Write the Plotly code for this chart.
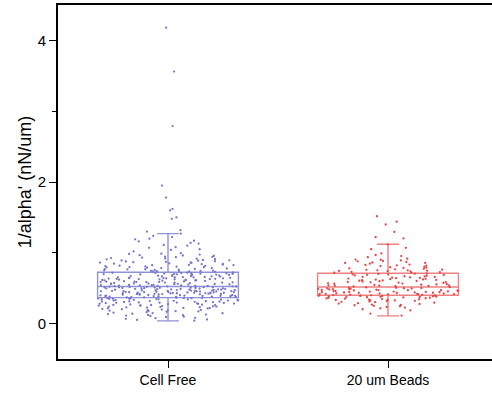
import plotly.graph_objects as go

categories = ["Cell Free", "20 um Beads"]
positions = [0, 1]

cell_free = [
    0.041, 0.093, 0.058, 0.127, 0.146, 0.081, 0.172, 0.113, 0.198, 0.155,
    0.067, 0.214, 0.183, 0.139, 0.241, 0.226, 0.107, 0.263, 0.191, 0.252,
    0.288, 0.161, 0.274, 0.305, 0.233, 0.219, 0.297, 0.318, 0.122, 0.281,
    0.336, 0.247, 0.309, 0.343, 0.176, 0.268, 0.325, 0.354, 0.203, 0.292,
    0.331, 0.361, 0.258, 0.312, 0.347, 0.236, 0.279, 0.302, 0.357, 0.188,
    0.264, 0.321, 0.339, 0.098, 0.229, 0.285, 0.351, 0.366, 0.207, 0.316,
    0.244, 0.328, 0.359, 0.134, 0.271, 0.299, 0.345, 0.167, 0.253, 0.334,
    0.363, 0.221, 0.294, 0.349, 0.076, 0.308,
    0.052, 0.118, 0.149, 0.193, 0.217, 0.239, 0.261, 0.283, 0.296, 0.314,
    0.327, 0.341, 0.353, 0.362, 0.178,
    0.371, 0.412, 0.448, 0.389, 0.503, 0.427, 0.468, 0.381, 0.494, 0.436,
    0.457, 0.402, 0.518, 0.375, 0.441, 0.483, 0.419, 0.396, 0.462, 0.509,
    0.386, 0.433, 0.476, 0.408, 0.452, 0.497, 0.378, 0.423, 0.488, 0.445,
    0.415, 0.471, 0.392, 0.512, 0.438, 0.459, 0.399, 0.481, 0.429, 0.506,
    0.369, 0.454, 0.417, 0.491, 0.384, 0.466, 0.443, 0.521, 0.405, 0.474,
    0.431, 0.498, 0.394, 0.449, 0.486, 0.421, 0.463, 0.379, 0.515, 0.439,
    0.409, 0.479, 0.456, 0.393, 0.501, 0.426, 0.469, 0.387, 0.446, 0.511,
    0.414, 0.484, 0.434, 0.398, 0.461, 0.507,
    0.373, 0.391, 0.404, 0.418, 0.429, 0.444, 0.458, 0.467, 0.478, 0.489,
    0.496, 0.504, 0.513, 0.519, 0.436,
    0.529, 0.586, 0.641, 0.553, 0.702, 0.612, 0.568, 0.674, 0.537, 0.629,
    0.691, 0.577, 0.548, 0.657, 0.718, 0.603, 0.534, 0.664, 0.592, 0.624,
    0.709, 0.561, 0.645, 0.683, 0.541, 0.617, 0.572, 0.698, 0.651, 0.589,
    0.526, 0.633, 0.714, 0.557, 0.669, 0.606, 0.544, 0.687, 0.621, 0.579,
    0.659, 0.531, 0.696, 0.598, 0.638, 0.564, 0.722, 0.613, 0.551, 0.677,
    0.583, 0.647, 0.705, 0.539, 0.626, 0.594, 0.668, 0.559, 0.711, 0.636,
    0.574, 0.693, 0.609, 0.546, 0.654, 0.681, 0.524, 0.619, 0.701, 0.566,
    0.643, 0.587, 0.672, 0.533, 0.631, 0.716,
    0.527, 0.543, 0.562, 0.578, 0.596, 0.611, 0.628, 0.639, 0.652, 0.667,
    0.679, 0.694, 0.707, 0.719, 0.585,
    0.731, 0.812, 0.889, 0.757, 0.943, 0.778, 0.851, 0.742, 0.967, 0.804,
    0.873, 0.765, 0.921, 0.829, 0.736, 0.898, 0.791, 0.956, 0.847, 0.772,
    0.914, 0.818, 0.749, 0.881, 0.984, 0.796, 0.862, 0.738, 0.932, 0.808,
    0.753, 0.867, 0.784, 0.995, 0.839, 0.761, 0.908, 0.824, 0.745, 0.877,
    0.947, 0.799, 0.856, 0.769, 0.926, 0.834, 0.975, 0.787, 0.741, 0.893,
    0.744, 0.768, 0.793, 0.816, 0.842, 0.866, 0.894, 0.917, 0.938, 0.962,
    0.988, 0.827,
    1.02, 1.04, 1.05, 1.07, 1.08, 1.10, 1.11, 1.13, 1.14, 1.16,
    1.17, 1.19, 1.20, 1.22, 1.24, 1.271,
    1.30, 1.32, 1.48, 1.50, 1.60, 1.62, 1.78, 1.95, 2.79, 3.56, 4.18,
]

beads_20um = [
    0.113, 0.186, 0.227, 0.251, 0.142, 0.268, 0.295, 0.214, 0.312, 0.331,
    0.278, 0.347, 0.236, 0.358, 0.302, 0.366, 0.259, 0.374, 0.321, 0.381,
    0.289, 0.387, 0.339, 0.393, 0.352, 0.397, 0.308, 0.372, 0.245, 0.384,
    0.362, 0.327, 0.391, 0.283, 0.378, 0.344, 0.399, 0.317, 0.369, 0.203,
    0.355, 0.389, 0.336, 0.264, 0.333, 0.376, 0.395,
    0.403, 0.447, 0.488, 0.421, 0.509, 0.436, 0.462, 0.412, 0.497, 0.455,
    0.428, 0.476, 0.515, 0.407, 0.441, 0.483, 0.432, 0.468, 0.502, 0.417,
    0.451, 0.493, 0.424, 0.471, 0.439, 0.511, 0.458, 0.409, 0.485, 0.444,
    0.466, 0.426, 0.499, 0.415, 0.478, 0.453, 0.505, 0.434, 0.461, 0.491,
    0.419, 0.473, 0.448, 0.414, 0.443, 0.472, 0.496,
    0.524, 0.583, 0.641, 0.552, 0.697, 0.609, 0.538, 0.667, 0.574, 0.627,
    0.686, 0.546, 0.598, 0.653, 0.531, 0.705, 0.617, 0.563, 0.676, 0.589,
    0.636, 0.541, 0.658, 0.603, 0.692, 0.557, 0.622, 0.579, 0.708, 0.647,
    0.528, 0.669, 0.594, 0.613, 0.681, 0.566, 0.632, 0.549, 0.701, 0.587,
    0.661, 0.535, 0.624, 0.537, 0.569, 0.605, 0.648, 0.689,
    0.718, 0.774, 0.846, 0.731, 0.892, 0.759, 0.812, 0.726, 0.938, 0.787,
    0.863, 0.741, 0.905, 0.796, 0.752, 0.871, 0.823, 0.766, 0.954, 0.738,
    0.834, 0.781, 0.917, 0.748, 0.857, 0.803, 0.969, 0.762, 0.879, 0.721,
    0.991, 0.829, 0.744, 0.902, 0.792, 0.857, 0.753, 0.819, 0.884,
    1.05, 1.07, 1.12, 1.205, 1.22, 1.295, 1.40, 1.44, 1.516,
]

# Box statistics
q1 = [0.367, 0.400]
median = [0.523, 0.518]
q3 = [0.725, 0.711]
lower_whisker = [0.038, 0.109]
upper_whisker = [1.271, 1.12]

y_ticks = [0, 2, 4]

box_colors = ["rgb(145,145,218)", "rgb(238,128,128)"]
point_colors = ["rgb(118,118,200)", "rgb(226,70,70)"]

series = [cell_free, beads_20um]
BOX_W = 0.64

fig = go.Figure()
for i, cat in enumerate(categories):
    fig.add_trace(go.Box(
        x=[positions[i]], q1=[q1[i]], median=[median[i]], q3=[q3[i]],
        lowerfence=[lower_whisker[i]], upperfence=[upper_whisker[i]],
        width=BOX_W, whiskerwidth=0.156, name=cat,
        line=dict(color=box_colors[i], width=1.4),
        fillcolor="rgba(0,0,0,0)", boxpoints=False, showlegend=False,
    ))
    fig.add_trace(go.Box(
        x=[positions[i]] * len(series[i]), y=series[i],
        width=BOX_W, boxpoints="all", jitter=1, pointpos=0, name=cat,
        line=dict(color="rgba(0,0,0,0)", width=0),
        fillcolor="rgba(0,0,0,0)",
        marker=dict(color=point_colors[i], size=2.3, line=dict(width=0)),
        showlegend=False,
    ))

font_family = "Arial, Liberation Sans, sans-serif"
fig.update_layout(
    width=492, height=394,
    margin=dict(l=58, r=0, t=5, b=35),
    paper_bgcolor="white", plot_bgcolor="white",
    boxmode="overlay",
    font=dict(family=font_family, color="black", size=15),
    xaxis=dict(
        range=[-0.5, 1.4727], tickvals=positions, ticktext=categories,
        showline=True, linecolor="black", linewidth=2, mirror=True,
        ticks="outside", ticklen=7, tickwidth=1.3, tickcolor="black",
        showgrid=False, zeroline=False,
        tickfont=dict(size=14),
    ),
    yaxis=dict(
        range=[-0.5, 4.5], tickvals=y_ticks,
        showline=True, linecolor="black", linewidth=2, mirror=False,
        ticks="outside", ticklen=7, tickwidth=1.3, tickcolor="black",
        minor=dict(dtick=1, ticks="outside", ticklen=4, tickwidth=1.3, tickcolor="black"),
        showgrid=False, zeroline=False,
        tickfont=dict(size=15),
        title=dict(text="1/alpha' (nN/um)", font=dict(size=18), standoff=1),
    ),
)

fig.write_html("out.html")
